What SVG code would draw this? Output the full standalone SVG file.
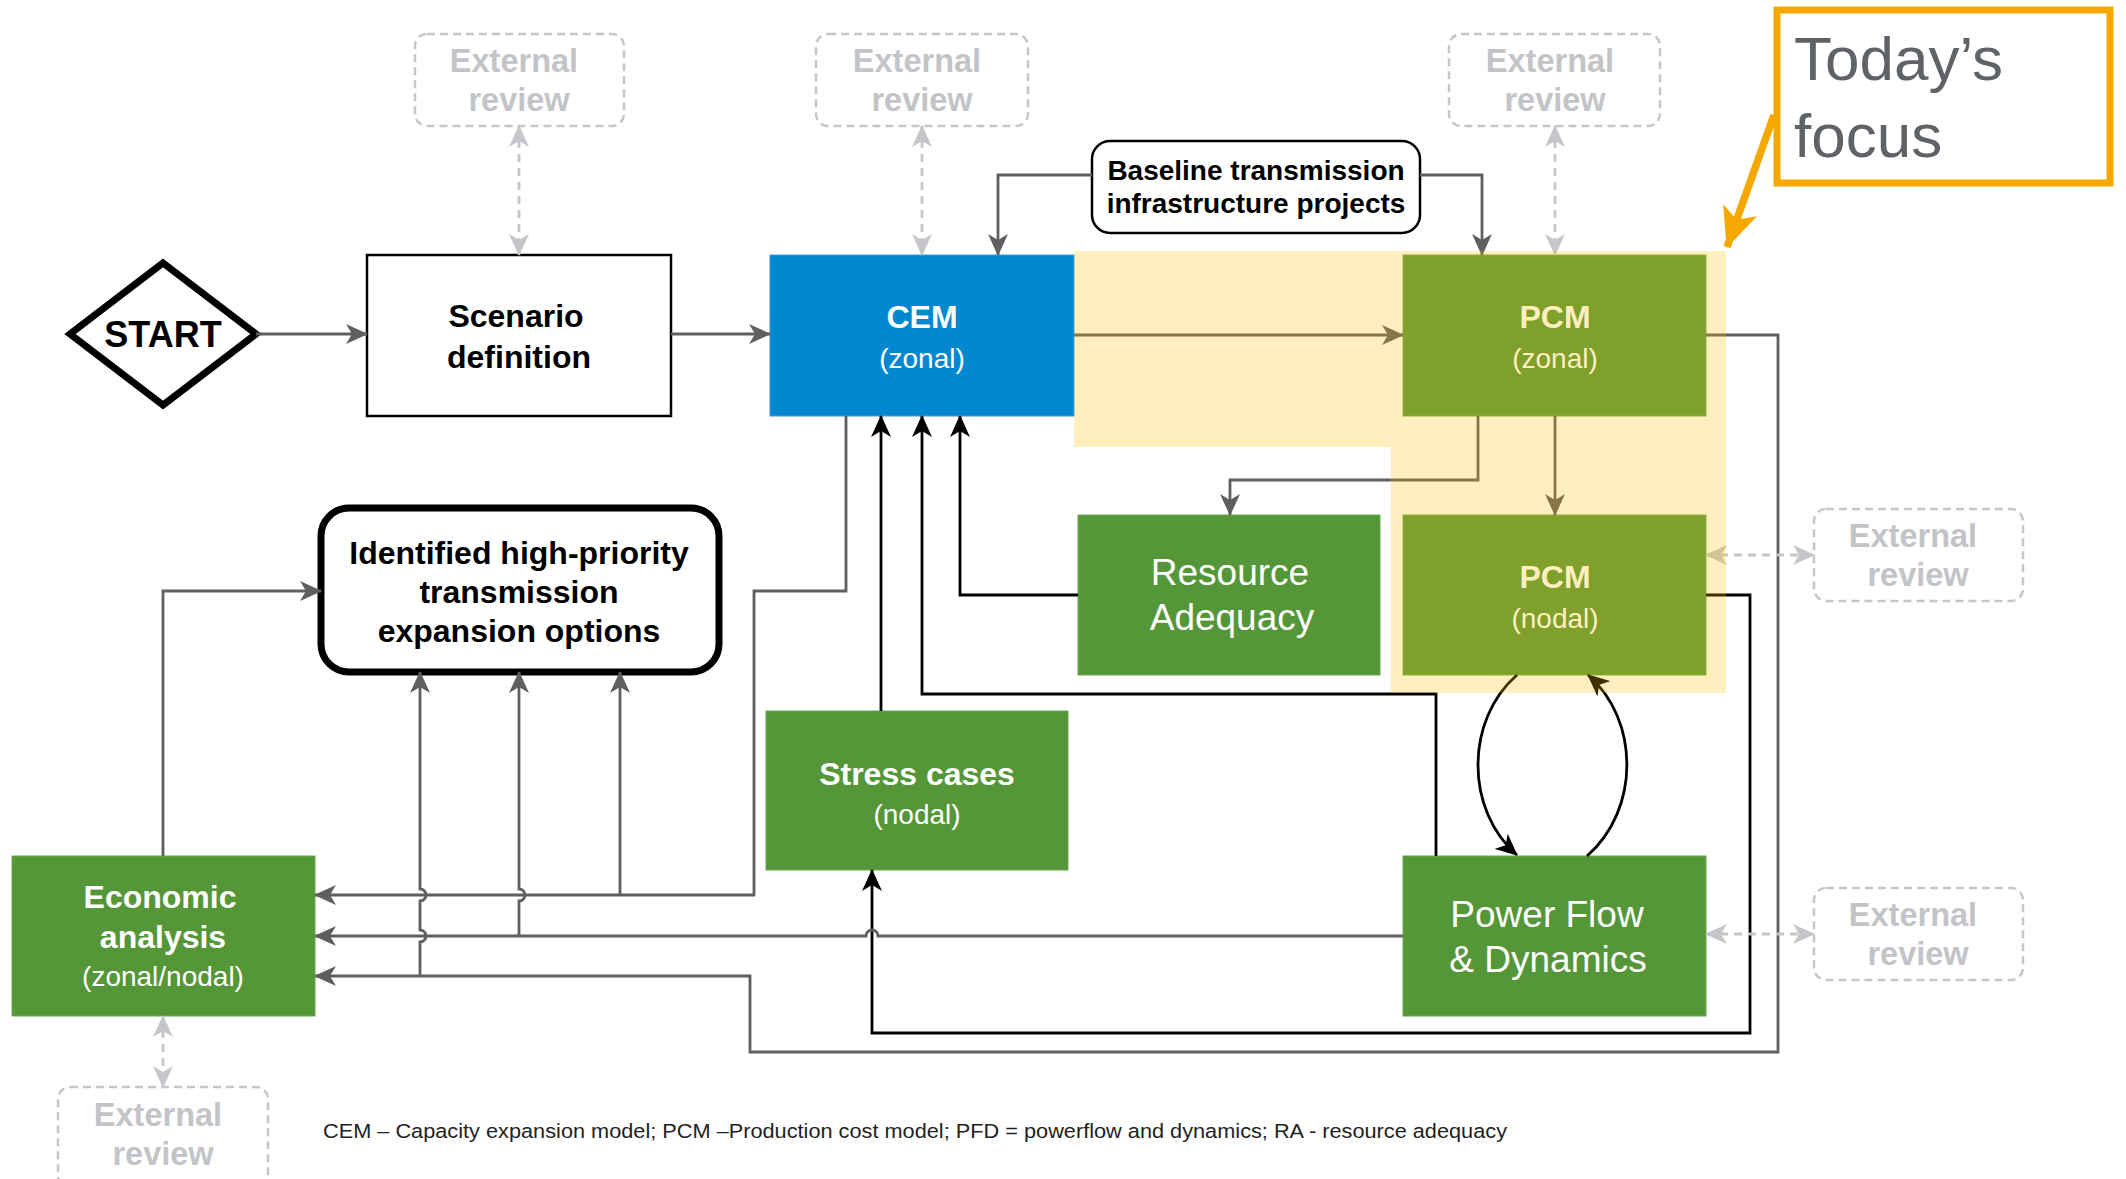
<svg xmlns="http://www.w3.org/2000/svg" width="2126" height="1179" viewBox="0 0 2126 1179">
<style>
text{font-family:"Liberation Sans",Arial,Helvetica,sans-serif;text-anchor:middle}
.b{font-weight:bold}
.w{fill:#ffffff}
.ext{fill:#c2c4c8;font-weight:bold;font-size:32.5px}
.extbox{fill:none;stroke:#c4c6ca;stroke-width:2.5;stroke-dasharray:8 5}
.g{fill:none;stroke:#5f5f5f;stroke-width:2.8}
.k{fill:none;stroke:#000000;stroke-width:2.8}
.d{fill:none;stroke:#c4c6ca;stroke-width:2.8;stroke-dasharray:8 6}
.green{fill:#559638;stroke:#6aa84f;stroke-width:1}
</style>
<defs>
<marker id="ag" markerUnits="userSpaceOnUse" markerWidth="22" markerHeight="20" viewBox="0 0 22 20" refX="21" refY="10" orient="auto"><path d="M0,0 L22,10 L0,20 L6,10 Z" fill="#5f5f5f"/></marker>
<marker id="ak" markerUnits="userSpaceOnUse" markerWidth="22" markerHeight="20" viewBox="0 0 22 20" refX="21" refY="10" orient="auto"><path d="M0,0 L22,10 L0,20 L6,10 Z" fill="#000000"/></marker>
<marker id="ad" markerUnits="userSpaceOnUse" markerWidth="22" markerHeight="20" viewBox="0 0 22 20" refX="21" refY="10" orient="auto-start-reverse"><path d="M0,0 L22,10 L0,20 L6,10 Z" fill="#c4c6ca"/></marker>
<marker id="ao" markerUnits="userSpaceOnUse" markerWidth="40" markerHeight="36" viewBox="0 0 40 36" refX="39" refY="18" orient="auto"><path d="M0,0 L40,18 L0,36 L10,18 Z" fill="#f5a800"/></marker>
</defs>
<rect width="2126" height="1179" fill="#ffffff"/>

<g id="start">
<polygon points="163,263 256,334 163,405 70,334" fill="#ffffff" stroke="#000000" stroke-width="7"/>
<text x="163" y="347" class="b" font-size="36">START</text>
</g>
<g id="scenario">
<rect x="367" y="255" width="304" height="161" fill="#ffffff" stroke="#000000" stroke-width="2.5"/>
<text x="516" y="327" class="b" font-size="32">Scenario</text>
<text x="519" y="368" class="b" font-size="32">definition</text>
</g>
<g id="cem">
<rect x="770" y="255" width="304" height="161" fill="#0288d1" stroke="#3d9ad9" stroke-width="1"/>
<text x="922" y="328" class="b w" font-size="32">CEM</text>
<text x="922" y="368" class="w" font-size="28">(zonal)</text>
</g>
<g id="pcm-zonal">
<rect x="1403" y="255" width="303" height="161" class="green"/>
<text x="1555" y="328" class="b w" font-size="32">PCM</text>
<text x="1555" y="368" class="w" font-size="28">(zonal)</text>
</g>
<g id="pcm-nodal">
<rect x="1403" y="515" width="303" height="160" class="green"/>
<text x="1555" y="588" class="b w" font-size="32">PCM</text>
<text x="1555" y="628" class="w" font-size="28">(nodal)</text>
</g>
<g id="resource-adequacy">
<rect x="1078" y="515" width="302" height="160" class="green"/>
<text x="1230" y="585" class="w" font-size="37">Resource</text>
<text x="1232" y="630" class="w" font-size="37">Adequacy</text>
</g>
<g id="stress-cases">
<rect x="766" y="711" width="302" height="159" class="green"/>
<text x="917" y="785" class="b w" font-size="32">Stress cases</text>
<text x="917" y="824" class="w" font-size="28">(nodal)</text>
</g>
<g id="power-flow">
<rect x="1403" y="856" width="303" height="160" class="green"/>
<text x="1547" y="927" class="w" font-size="37">Power Flow</text>
<text x="1548" y="972" class="w" font-size="37">&amp; Dynamics</text>
</g>
<g id="economic">
<rect x="12" y="856" width="303" height="160" class="green"/>
<text x="160" y="908" class="b w" font-size="32">Economic</text>
<text x="163" y="948" class="b w" font-size="32">analysis</text>
<text x="163" y="986" class="w" font-size="28">(zonal/nodal)</text>
</g>
<g id="identified">
<rect x="321" y="508" width="398" height="164" rx="28" fill="#ffffff" stroke="#000000" stroke-width="7"/>
<text x="519" y="564" class="b" font-size="32">Identified high-priority</text>
<text x="519" y="603" class="b" font-size="32">transmission</text>
<text x="519" y="642" class="b" font-size="32">expansion options</text>
</g>
<g id="baseline">
<rect x="1092" y="141" width="328" height="92" rx="18" fill="#ffffff" stroke="#000000" stroke-width="2.5"/>
<text x="1256" y="180" class="b" font-size="28">Baseline transmission</text>
<text x="1256" y="213" class="b" font-size="28">infrastructure projects</text>
</g>
<g id="ext-review-1">
<rect x="415" y="34" width="209" height="92" rx="12" class="extbox"/>
<text x="514" y="72" class="ext">External</text>
<text x="519" y="111" class="ext">review</text>
</g>
<g id="ext-review-2">
<rect x="816" y="34" width="212" height="92" rx="12" class="extbox"/>
<text x="917" y="72" class="ext">External</text>
<text x="922" y="111" class="ext">review</text>
</g>
<g id="ext-review-3">
<rect x="1449" y="34" width="211" height="92" rx="12" class="extbox"/>
<text x="1550" y="72" class="ext">External</text>
<text x="1555" y="111" class="ext">review</text>
</g>
<g id="ext-review-4">
<rect x="1814" y="509" width="209" height="92" rx="12" class="extbox"/>
<text x="1913" y="547" class="ext">External</text>
<text x="1918" y="586" class="ext">review</text>
</g>
<g id="ext-review-5">
<rect x="1814" y="888" width="209" height="92" rx="12" class="extbox"/>
<text x="1913" y="926" class="ext">External</text>
<text x="1918" y="965" class="ext">review</text>
</g>
<g id="ext-review-6">
<rect x="58" y="1087" width="210" height="100" rx="12" class="extbox"/>
<text x="158" y="1126" class="ext">External</text>
<text x="163" y="1165" class="ext">review</text>
</g>
<g id="todays-focus">
<rect x="1777" y="10" width="333" height="173" fill="#ffffff" stroke="#f5a800" stroke-width="7"/>
<text x="1794" y="80" font-size="62" fill="#5f6368" style="text-anchor:start">Today’s</text>
<text x="1794" y="157" font-size="62" fill="#5f6368" style="text-anchor:start">focus</text>
</g>
<g id="footnote">
<text x="323" y="1138" font-size="20.5" fill="#222222" style="text-anchor:start" textLength="1184" lengthAdjust="spacingAndGlyphs">CEM – Capacity expansion model; PCM –Production cost model; PFD = powerflow and dynamics; RA - resource adequacy</text>
</g>

<g id="connectors">
<path class="g" d="M256,334 H367" marker-end="url(#ag)"/>
<path class="g" d="M671,334 H770" marker-end="url(#ag)"/>
<path class="g" d="M1074,335 H1403" marker-end="url(#ag)"/>
<path class="g" d="M1092,175 H998 V255" marker-end="url(#ag)"/>
<path class="g" d="M1420,175 H1482 V255" marker-end="url(#ag)"/>
<path class="g" d="M1555,416 V515" marker-end="url(#ag)"/>
<path class="g" d="M1478,416 V480 H1230 V515" marker-end="url(#ag)"/>
<path class="k" d="M1078,595 H960 V416" marker-end="url(#ak)"/>
<path class="k" d="M881,711 V416" marker-end="url(#ak)"/>
<path class="k" d="M1436,856 V694 H922 V416" marker-end="url(#ak)"/>
<path class="k" d="M1706,595 H1750 V1033 H872 V870" marker-end="url(#ak)"/>
<path class="k" d="M1517,675 C1465,720 1465,810 1517,855" marker-end="url(#ak)"/>
<path class="k" d="M1587,856 C1640,810 1640,720 1588,675" marker-end="url(#ak)"/>
<path class="g" d="M846,416 V591 H754 V895 H315" marker-end="url(#ag)"/>
<path class="g" d="M1403,936 H878 A6,6 0 0 0 866,936 H315" marker-end="url(#ag)"/>
<path class="g" d="M1706,335 H1778 V1052 H750 V976 H315" marker-end="url(#ag)"/>
<path class="g" d="M163,856 V591 H321" marker-end="url(#ag)"/>
<path class="g" d="M620,895 V672" marker-end="url(#ag)"/>
<path class="g" d="M519,936 V901 A6,6 0 0 0 519,889 V672" marker-end="url(#ag)"/>
<path class="g" d="M420,976 V942 A6,6 0 0 0 420,930 V901 A6,6 0 0 0 420,889 V672" marker-end="url(#ag)"/>
<path class="d" d="M519,126 V255" marker-start="url(#ad)" marker-end="url(#ad)"/>
<path class="d" d="M922,126 V255" marker-start="url(#ad)" marker-end="url(#ad)"/>
<path class="d" d="M1555,126 V255" marker-start="url(#ad)" marker-end="url(#ad)"/>
<path class="d" d="M1706,555 H1814" marker-start="url(#ad)" marker-end="url(#ad)"/>
<path class="d" d="M1706,934 H1814" marker-start="url(#ad)" marker-end="url(#ad)"/>
<path class="d" d="M163,1016 V1087" marker-start="url(#ad)" marker-end="url(#ad)"/>
<path d="M1774,115 L1727,247" fill="none" stroke="#f5a800" stroke-width="7.5" marker-end="url(#ao)"/>
</g>

<path id="focus-highlight" d="M1074,251 H1726 V693 H1391 V447 H1074 Z" fill="#ffbe00" fill-opacity="0.25"/>
</svg>
